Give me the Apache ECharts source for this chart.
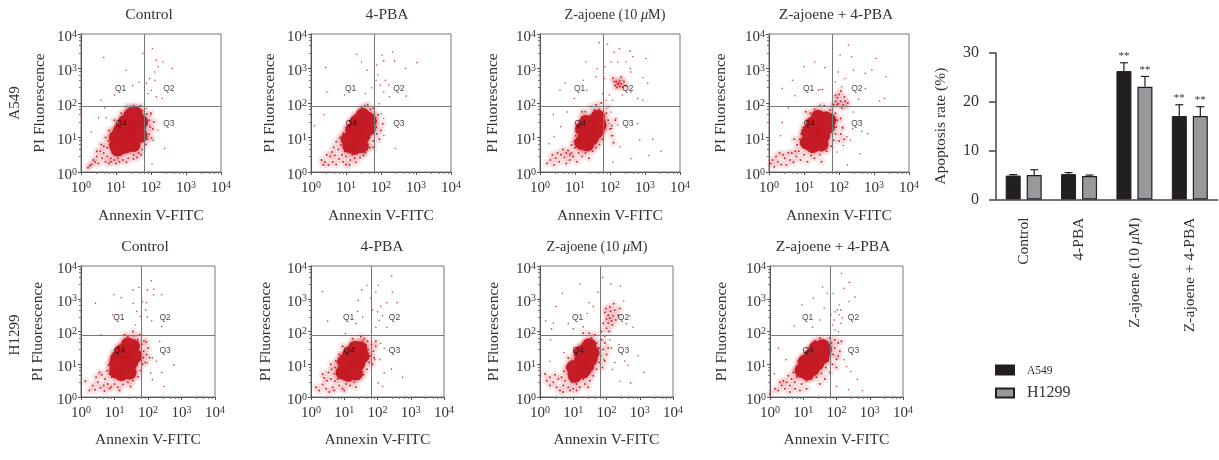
<!DOCTYPE html>
<html><head><meta charset="utf-8">
<style>html,body{margin:0;background:#fff}#c{width:1219px;height:460px}</style>
<script src="https://cdn.jsdelivr.net/npm/echarts@6/dist/echarts.min.js"></script></head>
<body><div id="c"></div>
<script>
// Bar chart values
const barCategories = ['Control','4-PBA','Z-ajoene (10 μM)','Z-ajoene + 4-PBA'];
const a549Rate = [4.9,5.2,26.3,17.1];
const h1299Rate = [5.0,4.8,23.1,17.1];
const a549Top = [5.1,5.5,28.0,19.4];
const h1299Top = [6.1,5.0,25.2,19.0];
const a549Stars = ['','','**','**'];
const h1299Stars = ['','','**','**'];
const panelTitles = ['Control','4-PBA','Z-ajoene (10 μM)','Z-ajoene + 4-PBA'];
const rowNames = ['A549','H1299'];
const powerTicks = [1,10,100,1000,10000];
const gateA549 = [66,83];
const gateH1299 = [64,77];
const quadrants = [['Q1',113,241],['Q2',251,241],['Q3',251,140],['Q4',115,140]];

// Events, as pairs of (log10 value x 100): x,y,x,y,...
const aCtrlCore=[100,78,112,92,125,108,135,125,148,140,160,155,118,72,135,88,150,105,165,125,112,122,125,145,142,165,172,145,100,100,150,78,130,75,170,105,155,170,105,65];
const aCtrlHalo=[40,30,50,25,60,40,45,45,30,22,70,30,80,25,65,55,75,45,55,60,85,40,95,35,105,40,120,35,135,40,90,55,75,70,65,75,78,90,85,105,92,118,100,132,108,145,118,158,128,172,140,188,150,192,160,185,175,178,188,168,195,150,198,130,195,110,190,95,185,80,175,65,165,55,150,50,45,60,58,80,70,100,25,18,20,12,35,35,85,30,100,25,110,30,130,28,150,38,160,42,172,50,205,125,202,98,208,145,200,170,170,192,130,190,115,170,95,150,80,120];
const aCtrlStray=[65,332,129,295,177,344,204,358,215,324,234,319,261,300,220,305,211,290,196,271,211,266,187,257,201,237,191,227,215,218,232,213,148,250,166,261,96,223,57,208,67,186,50,157,72,157,0,174,29,116,206,92,239,68,203,24,220,121,196,136,187,184,199,165];
const aPbaCore=[110,75,120,90,130,105,140,120,150,138,160,155,125,70,138,88,150,105,165,125,118,122,130,145,148,165,168,148,105,95,145,75];
const aPbaHalo=[40,29,50,20,62,30,72,22,55,45,45,50,68,48,80,38,92,30,100,22,88,50,78,65,65,72,85,78,72,88,90,95,60,58,100,45,112,35,125,40,140,42,155,55,168,70,178,90,188,110,187,130,186,148,180,165,170,182,155,192,140,178,125,165,110,148,100,128,92,112,82,100,128,28,110,20,96,60,150,48,178,185,192,165,195,95,200,120,205,140,178,72,162,195,145,188,30,35,35,20,118,50];
const aPbaStray=[131,341,42,303,144,319,160,295,203,339,233,347,239,322,270,300,303,317,208,322,188,310,191,281,212,266,198,252,208,232,224,218,272,220,45,232,96,223,155,227,38,166,10,134,241,68,208,106,208,155,195,198,186,266,222,252,174,244,201,169];
const aZajCore=[118,85,128,100,138,115,148,130,155,148,165,160,135,80,148,98,160,115,170,135,120,125,132,145];
const aZajHalo=[20,25,30,35,40,20,45,40,55,30,60,50,70,42,75,25,85,35,90,55,80,62,95,45,65,65,100,70,105,30,110,55,120,45,130,55,90,78,98,90,102,105,108,120,110,140,120,160,130,175,145,190,155,180,170,182,180,168,185,150,185,130,182,115,178,95,170,80,160,70,150,60,140,40,115,68,125,65,75,55,50,55,35,50,85,50,190,170,195,190,195,150,200,125,205,105,210,85,205,135,215,150,160,195,175,200,120,175,222,254,218,262,228,248,225,258,215,250,232,256,220,245,228,265,212,262,236,246,240,262,208,272,232,275,245,250];
const aZajStray=[169,375,193,370,227,358,257,351,212,347,265,334,303,329,203,319,246,319,222,319,131,319,258,300,260,290,294,273,308,257,163,300,184,305,72,258,57,237,124,266,134,237,160,276,184,271,198,223,189,208,208,208,179,227,236,223,260,232,279,213,294,208,98,213,38,166,78,174,189,184,203,174,184,165,217,155,198,140,222,136,208,106,205,126,279,140,322,95,285,92,346,60,311,48,260,39,229,73,208,29,59,131,26,82,40,102];
const aBothCore=[108,85,120,95,130,110,140,125,150,140,162,155,125,75,140,88,155,105,168,130,112,115,125,140,140,160,172,150,150,80];
const aBothHalo=[5,25,15,15,25,30,35,22,45,40,50,20,60,35,70,28,78,45,65,55,55,55,40,50,85,60,90,35,100,50,110,30,120,48,130,40,145,50,80,78,88,95,92,110,98,130,108,150,118,170,130,182,145,192,158,192,175,180,190,170,195,150,192,130,190,110,185,92,178,75,165,60,205,155,210,130,205,110,200,90,215,95,180,190,195,195,105,175,20,45,10,35,150,30,30,55,75,60,72,95,198,198,205,205,190,205,212,195,195,215,208,185,218,205,200,225,185,195,215,218,205,235,222,190,190,222,225,200];
const aBothStray=[227,368,203,339,236,334,306,329,131,319,100,305,160,302,241,295,275,286,294,295,334,276,217,271,198,290,67,266,38,242,74,221,146,239,153,239,141,237,189,261,208,247,275,242,256,211,316,206,330,213,241,174,55,186,38,143,33,105,211,126,222,102,212,77,260,53,282,111,265,118,195,58,224,21,239,126,233,92];
const hCtrlCore=[105,78,115,92,125,108,135,125,145,140,155,155,120,70,138,85,150,105,162,125,108,118,122,140,140,160,145,75,105,100];
const hCtrlHalo=[13,48,25,20,35,35,42,22,50,45,58,28,68,35,72,55,62,68,55,75,80,40,90,30,100,40,110,30,125,38,140,45,155,50,170,62,178,80,184,100,186,120,187,140,182,160,170,175,158,187,140,185,125,172,112,155,98,135,90,115,82,98,78,80,192,105,196,130,200,150,195,168,175,190,85,25,115,20,70,18,92,60,85,70,148,32,205,120,188,172,130,190,155,200,45,60];
const hCtrlStray=[210,355,218,329,198,327,241,312,216,312,173,335,155,327,98,312,120,303,43,286,156,286,183,291,195,288,193,266,166,261,198,244,211,233,241,215,178,246,163,220,60,190,95,251,235,170,198,104,208,73,241,75,213,53,277,98,248,32,213,119,225,109];
const hPbaCore=[95,75,105,88,115,102,125,118,135,132,148,148,112,68,128,85,142,102,155,125,100,108,115,130,132,150,135,72];
const hPbaHalo=[15,30,25,20,35,38,45,25,55,15,65,30,72,48,60,55,48,50,40,58,52,75,62,85,70,70,80,55,85,35,95,25,105,40,118,35,130,45,145,55,158,68,168,85,175,105,178,125,172,145,165,160,155,172,140,168,122,160,105,145,90,125,80,105,72,90,75,110,85,130,160,178,170,170,182,160,188,140,190,120,185,100,195,155,195,170,150,185,100,20,70,20,135,30,35,70,125,178,95,155,60,100];
const hPbaStray=[243,370,168,341,202,341,245,320,195,320,153,327,35,322,142,295,180,302,228,288,258,288,210,277,185,266,200,260,215,248,205,234,140,261,155,244,50,232,135,224,228,213,195,213,182,200,103,193,210,164,220,149,192,114,220,73,242,85,275,60,202,43,215,32,207,114];
const hZajCore=[105,65,115,80,118,98,125,112,135,125,140,145,148,158,130,78,142,95,152,115,158,135,100,90,122,135];
const hZajHalo=[20,50,30,35,40,45,50,30,60,20,70,35,55,55,65,60,75,50,85,70,45,68,85,30,100,25,110,40,120,30,135,40,150,50,160,65,170,85,178,105,183,125,178,150,170,165,155,180,135,170,120,155,105,130,95,110,80,90,72,78,95,45,130,55,145,30,188,90,195,110,200,130,190,145,205,150,195,165,185,175,165,190,148,195,130,195,85,120,30,60,15,70,110,20,90,20,70,15,150,75,210,241,205,250,215,232,200,238,220,248,212,262,205,225,218,220,195,258,225,265,200,210,190,225,228,235,210,275,222,285,198,270,235,250,185,200,208,200,240,270];
const hZajStray=[188,365,242,339,213,345,120,345,67,317,175,320,48,276,148,288,160,276,252,293,270,248,260,224,280,213,17,232,40,226,35,208,85,224,100,208,142,255,130,214,32,175,72,136,30,109,265,97,295,126,312,75,273,43,240,48,218,84,225,105,215,150,210,175,195,185,238,160,255,110,192,114,200,130];
const hBothCore=[95,80,105,85,115,95,125,110,135,125,148,140,158,155,112,72,128,85,142,102,158,122,165,145,105,108,122,125,138,150];
const hBothHalo=[0,10,15,25,25,20,35,35,45,25,50,45,60,35,65,55,55,65,75,45,80,60,70,75,85,95,90,70,95,40,110,50,125,55,140,60,155,72,168,90,175,110,178,130,175,155,165,170,150,180,135,172,118,150,100,125,85,110,78,85,185,165,195,150,205,165,215,170,190,130,200,115,210,140,188,100,200,90,180,75,165,55,150,40,110,25,90,20,60,15,40,50,30,45,75,25,205,125,180,180,195,175];
const hBothStray=[215,378,238,350,158,336,190,317,223,332,173,317,256,305,238,291,96,281,130,302,208,281,203,266,213,266,196,260,208,251,218,241,183,251,163,271,213,225,193,235,73,217,150,235,128,213,26,149,13,71,48,114,243,78,263,54,236,22,278,19,200,32,223,114,230,93,196,205,188,220,206,199];

const panelData = [
 [aCtrlCore,aCtrlHalo,aCtrlStray],[aPbaCore,aPbaHalo,aPbaStray],[aZajCore,aZajHalo,aZajStray],[aBothCore,aBothHalo,aBothStray],
 [hCtrlCore,hCtrlHalo,hCtrlStray],[hPbaCore,hPbaHalo,hPbaStray],[hZajCore,hZajHalo,hZajStray],[hBothCore,hBothHalo,hBothStray]
];

const SERIF = '"Liberation Serif",serif';
const toPairs = f => { const o=[]; for(let i=0;i<f.length;i+=2) o.push([Math.pow(10,f[i]/100),Math.pow(10,f[i+1]/100)]); return o; };
const un = v => Math.pow(10,v/100);

const boxes = [[81,221,34,172],[311,451,34,172],[540,680,34,172],[769,909,34,172],
               [81,215,266,397],[311,444,266,397],[540,673,266,397],[770,903,266,397]];
const yNameGaps = [33,33,39,40,35,37,38,40];
const titleCentres = [149,387,615,836,145,382,597,833];
const grids=[],xAxes=[],yAxes=[],series=[],titles=[];
const tickRich = {b:{fontFamily:SERIF,fontSize:15,color:'#333',lineHeight:16},
                  s:{fontFamily:SERIF,fontSize:10,color:'#333',verticalAlign:'top',lineHeight:16,padding:[0,0,5,0]}};
const powLabel = v => '{b|10}{s|'+Math.round(Math.log10(v))+'}';
const logAxis = (gi,pos,name,gap)=>({
  type:'log',logBase:10,min:powerTicks[0],max:powerTicks[4],gridIndex:gi,position:pos,
  name,nameLocation:'middle',nameGap:gap,nameTextStyle:{fontFamily:SERIF,fontSize:15.5,color:'#333'},
  axisLine:{show:true,onZero:false,lineStyle:{color:'#555',width:1}},
  axisTick:{show:true,length:3,lineStyle:{color:'#555'}},
  minorTick:{show:true,splitNumber:5,length:2,lineStyle:{color:'#777'}},
  splitLine:{show:false},minorSplitLine:{show:false},
  axisLabel:{show:true,formatter:powLabel,rich:tickRich,margin:pos==='bottom'?8:4,padding:pos==='bottom'?0:[6,0,0,0],hideOverlap:false,showMinLabel:true,showMaxLabel:true}
});
boxes.forEach((b,i)=>{
  const row=i<4?0:1, col=i%4, gate=row?gateH1299:gateA549;
  grids.push({left:b[0],width:b[1]-b[0],top:b[2],height:b[3]-b[2],show:true,borderColor:'#777',borderWidth:1,backgroundColor:'transparent'});
  xAxes.push(logAxis(i,'bottom','Annexin V-FITC',row?35:36));
  yAxes.push(logAxis(i,'left','PI Fluorescence',yNameGaps[i]));
  const base={type:'scatter',xAxisIndex:i,yAxisIndex:i,silent:true,animation:false};
  const [core,halo,stray]=panelData[i];
  series.push({...base,name:'haloGlow'+i,data:toPairs(halo),symbolSize:8,itemStyle:{color:'#cf2a30',opacity:.1},z:1});
  series.push({...base,name:'halo'+i,data:toPairs(halo),symbolSize:2,itemStyle:{color:'#cc2a30',opacity:1},z:2});
  series.push({...base,name:'core'+i,data:toPairs(core),symbolSize:14,itemStyle:{color:'#c61c25',opacity:1,shadowBlur:4,shadowColor:'rgba(198,28,37,.7)'},z:3});
  series.push({...base,name:'stray'+i,data:toPairs(stray),symbolSize:1.6,itemStyle:{color:'#c9454b',opacity:1},z:2});
  series.push({...base,name:'gate'+i,data:[],z:4,markLine:{silent:true,symbol:'none',animation:false,label:{show:false},
    lineStyle:{color:'#777',width:1,type:'solid'},data:[{xAxis:gate[0]},{yAxis:gate[1]}]}});
  series.push({...base,name:'q'+i,z:5,symbolSize:0,data:quadrants.map(q=>({value:[un(q[1]),un(q[2])],label:{formatter:q[0]}})),
    label:{show:true,position:'inside',fontFamily:'"Liberation Sans",sans-serif',fontSize:8.5,color:'#111'}});
  const tf=col===2?14.2:15.5;
  titles.push({text:panelTitles[col].replace('μ','{m|μ}'),left:titleCentres[i],top:(row?239:7)+(col===2?1:0),padding:0,textAlign:'center',
    textStyle:{fontFamily:SERIF,fontSize:tf,fontWeight:'normal',color:'#333',rich:{m:{fontFamily:SERIF,fontStyle:'italic',fontSize:tf,color:'#333'}}}});
});

// Apoptosis bar chart
grids.push({left:996,width:221.5,top:53,height:146.5});
xAxes.push({type:'category',gridIndex:8,data:barCategories,
  axisLine:{lineStyle:{color:'#444',width:1.5}},axisTick:{alignWithLabel:true,length:6,lineStyle:{color:'#444',width:1.5}},
  axisLabel:{rotate:90,margin:18,interval:0,fontFamily:SERIF,fontSize:15.5,color:'#333',
    formatter:v=>v.replace('μ','{m|μ}'),rich:{m:{fontFamily:SERIF,fontStyle:'italic',fontSize:15.5,color:'#333'}}}});
yAxes.push({type:'value',gridIndex:8,min:0,max:30,interval:10,name:'Apoptosis rate (%)',nameLocation:'middle',nameGap:47,
  nameTextStyle:{fontFamily:SERIF,fontSize:15.5,color:'#333'},
  axisLine:{show:true,lineStyle:{color:'#444',width:1.5}},axisTick:{show:true,length:7,lineStyle:{color:'#444',width:1.5}},
  splitLine:{show:false},axisLabel:{fontFamily:SERIF,fontSize:16,color:'#333',margin:17}});
const barBase={type:'bar',xAxisIndex:8,yAxisIndex:8,barWidth:15,barGap:'40%',animation:false,silent:true};
series.push({...barBase,name:'A549',data:a549Rate,itemStyle:{color:'#231f20',borderColor:'#231f20',borderWidth:1},z:3});
series.push({...barBase,name:'H1299',data:h1299Rate,itemStyle:{color:'#98999d',borderColor:'#231f20',borderWidth:1.2},z:3});
const errItem=(sign)=>(params,api)=>{
  const c=api.coord([api.value(0),api.value(1)]), t=api.coord([api.value(0),api.value(2)]);
  const off=sign*api.size([1,0])[0]*0.19, x=c[0]+off;
  const line={stroke:'#231f20',lineWidth:1.2,fill:null};
  return {type:'group',children:[
    {type:'line',shape:{x1:x,y1:c[1],x2:x,y2:t[1]},style:line},
    {type:'line',shape:{x1:x-4,y1:t[1],x2:x+4,y2:t[1]},style:line},
    {type:'text',style:{x,y:t[1]-1,text:api.value(3),align:'center',verticalAlign:'bottom',font:'11px '+SERIF,fill:'#333'}}
  ]};
};
const errSeries=(name,vals,tops,stars,sign)=>({type:'custom',name,xAxisIndex:8,yAxisIndex:8,silent:true,animation:false,z:4,
  renderItem:errItem(sign),encode:{x:0,y:1},data:vals.map((v,i)=>[i,v,tops[i],stars[i]])});
series.push(errSeries('errA',a549Rate,a549Top,a549Stars,-1));
series.push(errSeries('errH',h1299Rate,h1299Top,h1299Stars,1));

const chart=echarts.init(document.getElementById('c'),null,{renderer:'canvas'});
chart.setOption({animation:false,backgroundColor:'#fff',title:titles,grid:grids,xAxis:xAxes,yAxis:yAxes,series,
  legend:{data:['A549','H1299'],orient:'vertical',left:995,top:363,padding:0,itemWidth:18,itemHeight:9,itemGap:8,icon:'rect',selectedMode:false,
    formatter:n=>n==='A549'?'{a|'+n+'}':'{h|'+n+'}',
    textStyle:{rich:{a:{fontFamily:SERIF,fontSize:11.5,color:'#333',lineHeight:16,padding:[2,0,0,8]},h:{fontFamily:SERIF,fontSize:16,color:'#333',lineHeight:16,padding:[0,0,0,8]}}}},
  graphic:[
    {type:'text',x:15,y:103,rotation:Math.PI/2,style:{text:rowNames[0],font:'15px '+SERIF,fill:'#333',align:'center',verticalAlign:'middle'}},
    {type:'text',x:15,y:335,rotation:Math.PI/2,style:{text:rowNames[1],font:'15px '+SERIF,fill:'#333',align:'center',verticalAlign:'middle'}}
  ]});
</script></body></html>
